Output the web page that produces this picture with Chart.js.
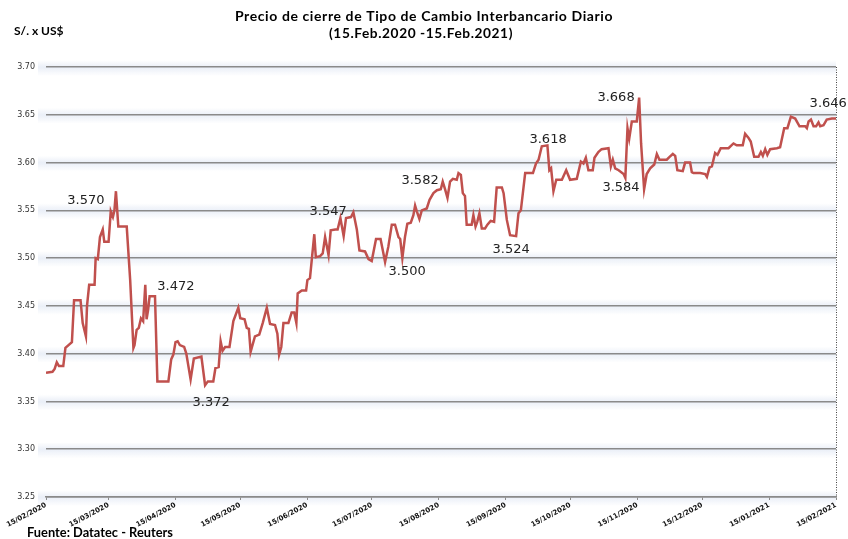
<!DOCTYPE html>
<html>
<head>
<meta charset="utf-8">
<script src="https://cdn.jsdelivr.net/npm/chart.js@4.4.1/dist/chart.umd.min.js"></script>
<style>
  body { margin: 0; background: #fff; }
  #wrap { width: 848px; height: 539px; position: relative; }
</style>
</head>
<body>
<div id="wrap"><canvas id="chart"></canvas></div>
<script>
// days since 15/02/2020
const dayOffsets = [
  0, 3, 4, 5, 6, 8, 9, 12, 13, 16, 17, 18.5, 19, 20, 22.5, 23, 24, 25, 26.3, 27, 29, 30, 31, 31.7, 32.4, 33.5, 37.4, 39, 40.5, 41, 42, 43, 44, 45, 46, 46.6, 47.3, 48, 50.5, 51.6, 56.7, 58, 59, 60, 61, 62, 64, 65, 67, 68.5, 72, 73.7, 75, 77.5, 78.5, 80, 80.9, 81.8, 83, 85, 86.8, 89.1, 90, 92, 93, 94, 94.8, 96.8, 98.8, 100.4, 102.3, 103.8, 106.1, 107.2, 108, 109, 110, 112.3, 113.8, 115, 116, 116.6, 118.5, 120.5, 121.1, 122.3, 124.3, 125, 127, 128.2, 129.3, 130.9, 131.9, 134, 135.1, 136.4, 137.9, 139, 141.3, 142.4, 144, 145.2, 147.8, 149.4, 150.9, 152.9, 155, 157.1, 158.6, 160.2, 161.7, 163.3, 164.1, 165.1, 166.3, 167.4, 169, 170.2, 171, 171.8, 173, 174.1, 176.4, 177.7, 179.5, 181.1, 182.9, 183.8, 184.9, 186, 187.2, 188.5, 190.3, 191.1, 192.2, 193.1, 194.1, 194.9, 197.2, 198, 199, 199.8, 200.8, 201.9, 203.4, 204.5, 206, 207.6, 208.8, 211.2, 212, 213.5, 215, 217.8, 218.9, 220, 222, 225.6, 227, 228.2, 229.7, 232.3, 233.2, 234, 235.1, 236.4, 239, 241, 242.8, 245.9, 247.8, 249, 250.1, 251.3, 253.3, 254.1, 255.9, 257.4, 260.6, 261.7, 262.6, 263.7, 265.3, 267.6, 268.4, 269.4, 270.2, 271.4, 273.7, 274.8, 275.7, 277.1, 278.3, 279.9, 281.8, 283, 284.2, 287.6, 288.9, 290.4, 291.5, 292.5, 295, 296.1, 298.4, 299.2, 300, 303.1, 305.4, 306.2, 307.4, 308.5, 310, 311.1, 312.6, 316.2, 318.5, 320, 322.8, 323.9, 325.4, 326.5, 328.1, 330.1, 331.2, 332.1, 333.2, 334.2, 335.5, 338.6, 340.1, 342, 343.5, 345.1, 347.1, 349.1, 351.7, 352.5, 353.3, 354.4, 355.6, 356.8, 357.9, 358.7, 360.2, 361.7, 364.1, 366
];
const rates = [
  3.380, 3.381, 3.384, 3.391, 3.387, 3.387, 3.406, 3.412, 3.456, 3.456, 3.432, 3.418, 3.450, 3.472, 3.472, 3.500, 3.499, 3.522, 3.530, 3.517, 3.517, 3.549, 3.543, 3.550, 3.570, 3.533, 3.533, 3.477, 3.406, 3.409, 3.425, 3.427, 3.437, 3.434, 3.472, 3.436, 3.446, 3.460, 3.460, 3.371, 3.371, 3.394, 3.399, 3.412, 3.413, 3.409, 3.407, 3.400, 3.373, 3.395, 3.397, 3.367, 3.371, 3.371, 3.385, 3.386, 3.413, 3.403, 3.407, 3.407, 3.434, 3.448, 3.437, 3.436, 3.427, 3.426, 3.402, 3.418, 3.420, 3.432, 3.448, 3.431, 3.430, 3.421, 3.399, 3.407, 3.432, 3.432, 3.443, 3.443, 3.432, 3.463, 3.466, 3.466, 3.477, 3.479, 3.525, 3.501, 3.502, 3.505, 3.522, 3.503, 3.529, 3.530, 3.530, 3.542, 3.523, 3.542, 3.543, 3.548, 3.530, 3.508, 3.507, 3.499, 3.497, 3.520, 3.520, 3.496, 3.512, 3.535, 3.535, 3.522, 3.520, 3.500, 3.522, 3.536, 3.537, 3.545, 3.555, 3.549, 3.541, 3.550, 3.552, 3.561, 3.568, 3.571, 3.572, 3.580, 3.572, 3.563, 3.580, 3.583, 3.582, 3.589, 3.587, 3.568, 3.565, 3.535, 3.535, 3.545, 3.533, 3.538, 3.547, 3.531, 3.531, 3.535, 3.539, 3.538, 3.574, 3.574, 3.568, 3.540, 3.524, 3.523, 3.547, 3.550, 3.589, 3.589, 3.599, 3.603, 3.617, 3.618, 3.592, 3.594, 3.570, 3.582, 3.582, 3.592, 3.582, 3.583, 3.601, 3.599, 3.605, 3.592, 3.592, 3.605, 3.611, 3.614, 3.615, 3.596, 3.603, 3.594, 3.592, 3.588, 3.584, 3.636, 3.625, 3.643, 3.643, 3.668, 3.620, 3.572, 3.588, 3.594, 3.598, 3.609, 3.603, 3.603, 3.606, 3.609, 3.607, 3.592, 3.591, 3.600, 3.600, 3.590, 3.589, 3.589, 3.588, 3.585, 3.595, 3.596, 3.610, 3.608, 3.615, 3.615, 3.620, 3.618, 3.618, 3.630, 3.626, 3.622, 3.606, 3.606, 3.611, 3.607, 3.614, 3.608, 3.614, 3.615, 3.616, 3.636, 3.636, 3.648, 3.646, 3.638, 3.638, 3.636, 3.643, 3.645, 3.638, 3.638, 3.642, 3.638, 3.639, 3.645, 3.646, 3.646
];

const tickDays = [0, 29, 60, 90, 121, 151, 182, 213, 243, 274, 304, 335, 366];
const tickLabels = ["15/02/2020", "15/03/2020", "15/04/2020", "15/05/2020", "15/06/2020", "15/07/2020",
  "15/08/2020", "15/09/2020", "15/10/2020", "15/11/2020", "15/12/2020", "15/01/2021", "15/02/2021"];

// value callouts, anchored in data space (day, rate)
const calloutTexts = ["3.570", "3.472", "3.372", "3.547", "3.582", "3.500", "3.524", "3.618", "3.668", "3.584", "3.646"];
const calloutDays = [18.5, 60.2, 76.5, 130.7, 173.3, 167.3, 215.5, 232.6, 264.1, 266.4, 362.4];
const calloutRates = [3.5598, 3.4699, 3.3485, 3.5483, 3.5808, 3.4856, 3.5086, 3.6236, 3.6676, 3.5734, 3.6613];

const points = dayOffsets.map((d, i) => ({x: d, y: rates[i]}));

const decorations = {
  id: "decorations",
  beforeDraw(chart) {
    const {ctx, chartArea, scales} = chart;
    // soft glow under the horizontal grid lines
    ctx.save();
    scales.y.ticks.forEach((t) => {
      const y = scales.y.getPixelForValue(t.value);
      const g = ctx.createLinearGradient(0, y - 7, 0, y + 9);
      g.addColorStop(0, "rgba(225,232,244,0)");
      g.addColorStop(0.45, "rgba(225,232,244,0.7)");
      g.addColorStop(1, "rgba(225,232,244,0)");
      ctx.fillStyle = g;
      ctx.fillRect(chartArea.left - 8, y - 7, chartArea.right - chartArea.left + 8, 16);
    });
    ctx.restore();
  },
  afterDraw(chart) {
    const {ctx, chartArea, scales} = chart;
    ctx.save();
    // dotted line on the right edge
    ctx.strokeStyle = "#444";
    ctx.lineWidth = 1;
    ctx.setLineDash([1, 1.5]);
    ctx.beginPath();
    ctx.moveTo(chartArea.right + 0.5, chartArea.top);
    ctx.lineTo(chartArea.right + 0.5, chartArea.bottom);
    ctx.stroke();
    ctx.setLineDash([]);

    // callouts
    ctx.fillStyle = "#222";
    ctx.font = "13px 'DejaVu Sans'";
    ctx.textAlign = "center";
    ctx.textBaseline = "middle";
    calloutTexts.forEach((txt, i) => {
      ctx.fillText(txt, scales.x.getPixelForValue(calloutDays[i]), scales.y.getPixelForValue(calloutRates[i]));
    });

    // titles and notes
    ctx.fillStyle = "#000";
    ctx.font = "bold 14px Lato";
    ctx.letterSpacing = "0.6px";
    ctx.fillText("Precio de cierre de Tipo de Cambio Interbancario Diario", 424, 16, 381);
    ctx.fillText("(15.Feb.2020 -15.Feb.2021)", 421, 33, 184);
    ctx.letterSpacing = "0px";
    ctx.textAlign = "left";
    ctx.font = "bold 12px Lato";
    ctx.fillText("S/. x US$", 14, 31, 51);
    ctx.font = "bold 13px Lato";
    ctx.fillText("Fuente: Datatec - Reuters", 27, 533, 146);
    ctx.restore();
  }
};

new Chart(document.getElementById("chart"), {
  type: "line",
  data: {
    datasets: [
      {
        label: "Tipo de cambio",
        data: points,
        borderColor: "#c0504d",
        borderWidth: 2.5,
        pointRadius: 0,
        tension: 0
      }
    ]
  },
  options: {
    responsive: true,
    maintainAspectRatio: false,
    animation: false,
    layout: {
      padding: {top: 67, right: 12, left: 0, bottom: 0}
    },
    plugins: {
      legend: {display: false},
      tooltip: {enabled: false}
    },
    scales: {
      x: {
        type: "linear",
        min: 0,
        max: 366,
        afterBuildTicks: (scale) => {
          scale.ticks = tickDays.map((d) => ({value: d}))
        },
        afterFit: (scale) => { scale.height = 42 },
        border: {display: true, color: "#8a8a8a", width: 1.5},
        grid: {drawOnChartArea: false, drawTicks: true, tickLength: 3, color: "#8a8a8a"},
        ticks: {
          autoSkip: false,
          minRotation: 28,
          maxRotation: 28,
          padding: 1,
          color: "#111",
          font: {family: "DejaVu Sans", size: 7, weight: "bold"},
          callback: (v) => tickLabels[tickDays.indexOf(v)]
        }
      },
      y: {
        min: 3.25,
        max: 3.70,
        afterFit: (scale) => { scale.width = 46 },
        border: {display: false},
        grid: {color: "#8a8a8a", lineWidth: 1.5, drawTicks: false},
        ticks: {
          stepSize: 0.05,
          padding: 11,
          color: "#333",
          font: {family: "DejaVu Sans", size: 8},
          callback: (v) => v.toFixed(2)
        }
      }
    }
  },
  plugins: [decorations]
})
</script>
</body>
</html>
